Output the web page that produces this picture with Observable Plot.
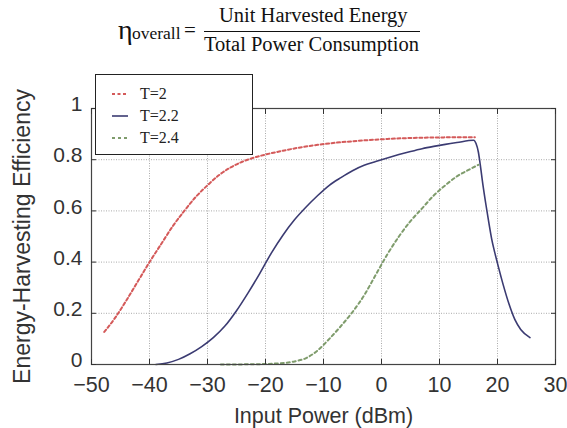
<!DOCTYPE html>
<html><head><meta charset="utf-8">
<script src="https://cdn.jsdelivr.net/npm/d3@7"></script>
<script src="https://cdn.jsdelivr.net/npm/@observablehq/plot@0.6"></script>
<style>
body{margin:0;background:#fff;width:567px;height:428px;overflow:hidden;position:relative;font-family:"Liberation Sans",Arial,sans-serif}
#title{position:relative;height:62px;font-family:"Liberation Serif","DejaVu Serif",serif;color:#111}
#title span{position:absolute;white-space:nowrap;line-height:1}
#frac{position:absolute;left:204px;top:30.5px;width:216px;height:0;border-top:1.6px solid #111}
#legend{position:absolute;left:95px;top:74px;width:156px;height:79px;border:1.5px solid #222;background:#fff;font-family:"Liberation Serif",serif;font-size:16px;color:#222}
#legend .row{position:absolute;left:0;height:20px;display:flex;align-items:center}
#legend svg{margin-left:16px;margin-right:12px}
</style></head>
<body>
<div id="title">
  <span style="left:118px;top:16px;font-size:28px">η</span>
  <span style="left:132px;top:25px;font-size:17.5px">overall</span>
  <span style="left:184px;top:20px;font-size:21px">=</span>
  <span style="left:219px;top:5px;font-size:20.5px">Unit Harvested Energy</span>
  <div id="frac"></div>
  <span style="left:204px;top:33.5px;font-size:20.5px">Total Power Consumption</span>
</div>
<div id="chart"></div>
<div id="legend"></div>
<script>
const xTicks = [-50,-40,-30,-20,-10,0,10,20,30];
const yTicks = [0,0.2,0.4,0.6,0.8,1];
const seriesNames = ["T=2","T=2.2","T=2.4"];
const seriesColors = ["#d45a5a","#3b3b72","#7f9c6c"];
const seriesDash = ["3,2.5",null,"3,3"];

const t2x = [-47.8,-46,-44,-42,-40,-38,-36,-34,-32,-30,-28,-26,-24,-22,-20,-17,-14,-11,-8,-5,-2,1,4,7,10,16.1];
const t2y = [0.127,0.18,0.25,0.325,0.40,0.47,0.54,0.60,0.655,0.70,0.74,0.77,0.792,0.808,0.82,0.835,0.848,0.858,0.866,0.872,0.877,0.881,0.884,0.886,0.887,0.888];

const t22x = [-38.9,-37,-35,-33,-31,-29,-27,-25,-23,-21,-19,-17,-15,-13,-11,-9,-7,-5,-3,-1,1,3,5,7,9,11,13,15.9,16.3,16.7,17.0,17.5,18,18.5,19,19.5,20,21,22,23,24,25.6];
const t22y = [0,0.006,0.02,0.042,0.07,0.105,0.15,0.21,0.28,0.355,0.435,0.505,0.565,0.615,0.66,0.70,0.73,0.757,0.778,0.793,0.807,0.82,0.832,0.843,0.852,0.86,0.867,0.876,0.863,0.83,0.785,0.70,0.625,0.555,0.49,0.44,0.395,0.31,0.235,0.175,0.137,0.105];

const t24x = [-27.7,-22,-18,-15,-13,-11,-9,-7,-5,-3,-1,1,3,5,7,9,11,13,15,16.7];
const t24y = [0,0.001,0.004,0.012,0.025,0.055,0.10,0.15,0.205,0.27,0.35,0.43,0.50,0.56,0.61,0.66,0.70,0.735,0.76,0.78];

const rows = [];
[[t2x,t2y],[t22x,t22y],[t24x,t24y]].forEach(([xs,ys],i)=>xs.forEach((x,j)=>rows.push({s:seriesNames[i],x,y:ys[j]})));

const fmtX = d => d<0 ? "\u2212"+Math.abs(d) : String(d);
const fmtY = d => String(+d.toFixed(1));
const chart = Plot.plot({
  width:567, height:366,
  marginTop:46, marginBottom:64, marginLeft:91, marginRight:12,
  style:{fontFamily:"Liberation Sans, Arial, sans-serif", fontSize:"21px", color:"#333", background:"#fff"},
  x:{domain:[-50,30]},
  y:{domain:[0,1]},
  marks:[
    Plot.gridX(xTicks,{stroke:"#aaa", strokeOpacity:1, strokeDasharray:"1,1.5"}),
    Plot.gridY(yTicks,{stroke:"#aaa", strokeOpacity:1, strokeDasharray:"1,1.5"}),
    ...seriesNames.map((n,i)=>Plot.line(rows.filter(r=>r.s===n),{x:"x",y:"y",stroke:seriesColors[i],strokeWidth:i===1?1.6:2,strokeDasharray:seriesDash[i],curve:"monotone-x"})),
    Plot.frame({stroke:"#444", strokeWidth:1.2}),
    Plot.axisX(xTicks,{anchor:"bottom", tickSize:-5, tickPadding:17, tickFormat:fmtX, label:"Input Power (dBm)", labelAnchor:"center", labelArrow:"none", labelOffset:58, fontSize:21.5}),
    Plot.axisX(xTicks,{anchor:"top", tickSize:-5, tickFormat:()=>"", label:null}),
    Plot.axisY(yTicks,{anchor:"left", tickSize:-5, tickFormat:()=>"", label:"Energy-Harvesting Efficiency", labelAnchor:"center", labelArrow:"none", labelOffset:78, fontSize:23}),
    Plot.axisY(yTicks,{anchor:"left", tickSize:0, tickPadding:9, tickFormat:fmtY, dy:-4, label:null, fontSize:21}),
    Plot.axisY(yTicks,{anchor:"right", tickSize:-5, tickFormat:()=>"", label:null})
  ]
});
document.getElementById("chart").appendChild(chart);

const lg = document.getElementById("legend");
seriesNames.forEach((n,i)=>{
  const row = document.createElement("div");
  row.className="row";
  row.style.top = (9 + i*22) + "px";
  row.innerHTML = `<svg width="16" height="6"><line x1="0" y1="3" x2="16" y2="3" stroke="${seriesColors[i]}" stroke-width="${i===1?1.6:2}" ${seriesDash[i]?`stroke-dasharray="${seriesDash[i]}"`:""}/></svg><span>${n}</span>`;
  lg.appendChild(row);
});
</script>
</body></html>
